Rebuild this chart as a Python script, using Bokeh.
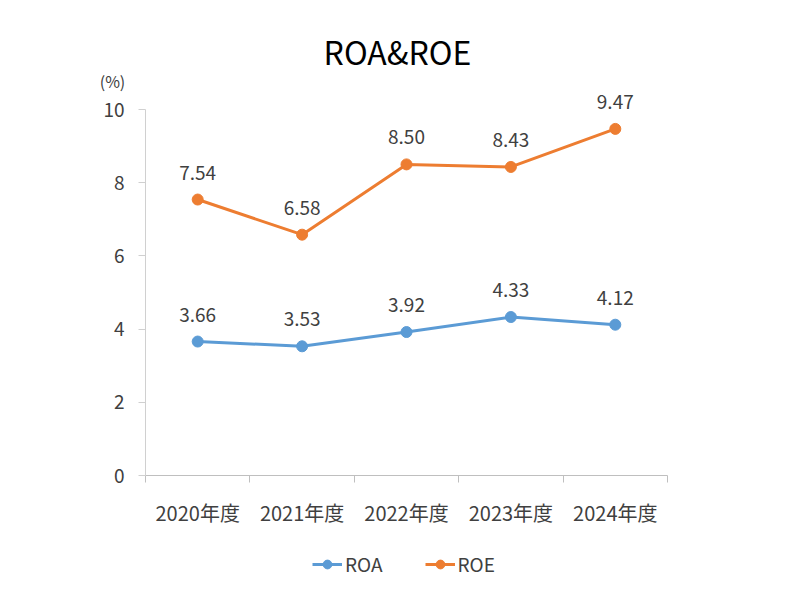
from bokeh.plotting import figure
from bokeh.models import (ColumnDataSource, LabelSet, Label, FixedTicker, Range1d,
                          Legend, LegendItem)
from bokeh.core.properties import value
from bokeh.embed import file_html
from bokeh.resources import INLINE

categories = ["2020年度", "2021年度", "2022年度", "2023年度", "2024年度"]
roa = [3.66, 3.53, 3.92, 4.33, 4.12]
roe = [7.54, 6.58, 8.50, 8.43, 9.47]
y_ticks = [0, 2, 4, 6, 8, 10]

FONT = "Noto Sans CJK JP"
TXT = "#404040"
C_ROA = "#5B9BD5"
C_ROE = "#ED7D31"

W, H = 806, 600
# plot-area placement in canvas pixels
L, R, T, B = 145, 667, 109, 475
n = len(categories)
ymax_tick = y_ticks[-1]
px_x = (R - L) / n
px_y = (B - T) / ymax_tick

xs = [i + 0.5 for i in range(n)]
src = ColumnDataSource(dict(
    x=xs, roa=roa, roe=roe,
    roa_t=[f"{v:.2f}" for v in roa],
    roe_t=[f"{v:.2f}" for v in roe],
))

p = figure(width=W, height=H, output_backend="svg", toolbar_location=None,
           x_range=Range1d(-L / px_x, n + (W - R) / px_x),
           y_range=Range1d(-(H - B) / px_y, ymax_tick + T / px_y),
           min_border=0)
p.outline_line_color = None
p.xgrid.visible = False
p.ygrid.visible = False

# x axis
xa = p.xaxis[0]
xa.fixed_location = 0
xa.bounds = (0, n)
xa.ticker = FixedTicker(ticks=xs, minor_ticks=list(range(n + 1)))
xa.major_label_overrides = {x: c for x, c in zip(xs, categories)}
xa.major_tick_out = 0
xa.major_tick_in = 0
xa.minor_tick_out = 7
xa.minor_tick_in = 0
xa.minor_tick_line_color = "#bfbfbf"
xa.axis_line_color = "#bfbfbf"
xa.major_label_standoff = 15
xa.major_label_text_font = FONT
xa.major_label_text_font_size = "20px"
xa.major_label_text_color = TXT

# y axis
ya = p.yaxis[0]
ya.fixed_location = 0
ya.bounds = (0, ymax_tick)
ya.ticker = FixedTicker(ticks=y_ticks, minor_ticks=[])
ya.major_tick_out = 7
ya.major_tick_in = 0
ya.major_tick_line_color = "#d0d0d0"
ya.axis_line_color = "#d0d0d0"
ya.minor_tick_line_color = None
ya.major_label_standoff = 14
ya.major_label_text_font = FONT
ya.major_label_text_font_size = "19px"
ya.major_label_text_color = TXT

r1 = p.line("x", "roa", source=src, line_color=C_ROA, line_width=3)
r2 = p.scatter("x", "roa", source=src, size=11, fill_color=C_ROA, line_color=C_ROA)
r3 = p.line("x", "roe", source=src, line_color=C_ROE, line_width=3)
r4 = p.scatter("x", "roe", source=src, size=11, fill_color=C_ROE, line_color=C_ROE)

for col, ycol in (("roa_t", "roa"), ("roe_t", "roe")):
    p.add_layout(LabelSet(x="x", y=ycol, text=col, source=src, y_offset=27,
                          text_align="center", text_baseline="middle",
                          text_font=value(FONT), text_font_size="19px",
                          text_color=TXT))

p.add_layout(Label(x=397, y=H - 50, x_units="screen", y_units="screen",
                   text="ROA&ROE", text_align="center", text_baseline="middle",
                   text_font=FONT, text_font_size="32px",
                   text_color="#000000"))
p.add_layout(Label(x=112, y=H - 80, x_units="screen", y_units="screen",
                   text="(%)", text_align="center", text_baseline="middle",
                   text_font=FONT, text_font_size="16px", text_color=TXT))

legend = Legend(items=[LegendItem(label="ROA", renderers=[r1, r2]),
                       LegendItem(label="ROE", renderers=[r3, r4])],
                orientation="horizontal", location=(312, 23),
                label_text_font=FONT, label_text_font_size="19px",
                label_text_color=TXT, glyph_width=30, glyph_height=22,
                spacing=42, label_standoff=3, border_line_color=None,
                background_fill_alpha=0, padding=0, margin=0)
p.add_layout(legend, "center")

open("out.html", "w").write(file_html(p, INLINE))
